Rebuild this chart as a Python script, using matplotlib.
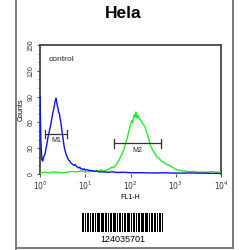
import matplotlib
matplotlib.use("Agg")
import matplotlib.pyplot as plt
import numpy as np
from matplotlib.lines import Line2D

title = "Hela"
label_control = "control"
xlabel = "FL1-H"
ylabel = "Counts"
barcode_text = "124035701"

# control (blue) histogram: log10(FL1-H) positions and counts
blue_log = [0.0, 0.01, 0.02, 0.04, 0.06, 0.08, 0.11, 0.13, 0.15, 0.17, 0.19, 0.22, 0.24, 0.26,
            0.28, 0.30, 0.32, 0.33, 0.345, 0.354, 0.365, 0.38, 0.40, 0.41, 0.43, 0.44, 0.46,
            0.48, 0.50, 0.515, 0.53, 0.55, 0.57, 0.59, 0.61, 0.62, 0.64, 0.66, 0.68, 0.70,
            0.73, 0.75, 0.78, 0.80, 0.83, 0.85, 0.88, 0.90, 0.93, 0.95, 0.98, 1.0, 1.05, 1.1,
            1.15, 1.2, 1.25, 1.3, 1.4, 1.5, 1.6, 1.7, 1.85, 2.0, 2.2, 2.5, 2.8, 3.0, 3.3, 3.5,
            3.8, 4.0]
blue_cnt = [90, 62, 38, 17, 15, 20, 23, 29, 34, 41, 46, 53, 58, 64,
            70, 75, 80, 84, 86, 88, 85, 80, 76, 72, 70, 66, 60,
            52, 45, 39, 33, 28, 24, 21, 19, 17, 16, 15, 13, 12,
            11, 10, 11, 9, 8, 7, 8, 6, 6, 5, 6, 4.5, 5, 4,
            4, 3, 3.5, 2.5, 2.5, 2, 2.5, 1.8, 2, 1.5, 1.5, 1.2, 1.4, 1, 1.2, 1,
            0.8, 0.5]

# sample (green) histogram
green_log = [0.0, 0.1, 0.2, 0.3, 0.4, 0.5, 0.6, 0.7, 0.8, 0.9, 1.0, 1.1, 1.2, 1.25, 1.3,
             1.35, 1.4, 1.45, 1.5, 1.53, 1.56, 1.6, 1.63, 1.66, 1.69, 1.72, 1.75, 1.78, 1.81,
             1.84, 1.87, 1.9, 1.93, 1.95, 1.97, 1.99, 2.01, 2.03, 2.05, 2.07, 2.09, 2.10,
             2.12, 2.13, 2.15, 2.16, 2.18, 2.2, 2.22, 2.25, 2.28, 2.32, 2.35, 2.38, 2.41,
             2.43, 2.46, 2.5, 2.54, 2.58, 2.62, 2.68, 2.73, 2.8, 2.87, 2.95, 3.02, 3.1, 3.2,
             3.3, 3.4, 3.5, 3.6, 3.7, 3.8, 3.9, 4.0]
green_cnt = [1, 2, 1.5, 2.5, 2, 1.5, 2, 3, 2.5, 3.5, 2.5, 3, 3, 4, 3.5,
             5, 3, 4, 5, 6, 7, 8, 7, 10, 11, 14, 16, 20, 23,
             27, 31, 37, 42, 47, 51, 56, 59, 62, 60, 67, 69, 66,
             72, 70, 65, 68, 66, 64, 63, 60, 58, 55, 50, 45, 40,
             35, 31, 27, 24, 20, 19, 15, 14, 11, 10, 7, 5, 4, 3.5,
             2.5, 3, 2, 2.5, 2, 3, 2, 2.5]

# gate markers (FL1-H range, count level)
gates = ["M1", "M2"]
gate_lo = [1.29, 43.0]
gate_hi = [3.9, 468.0]
gate_y = [46.5, 35.5]

yticks = [0, 30, 60, 90, 120, 150]
xticks = [1, 10, 100, 1000, 10000]
xticklabels = [r"$10^0$", r"$10^1$", r"$10^2$", r"$10^3$", r"$10^4$"]

# barcode module widths: alternating bar/space
barcode_modules = [2, 1, 1, 1, 2, 1, 1, 1, 2, 1, 1, 1, 3, 1, 1, 1, 2, 1, 2, 1, 1, 1, 2, 1,
                   3, 1, 1, 1, 2, 1, 1, 1, 2, 1, 3, 1, 1, 1, 2, 1, 1, 1, 2, 1, 2, 1, 1, 1,
                   3, 1, 1, 1, 2, 1, 2, 1, 1, 1, 2, 1, 1]

fig = plt.figure(figsize=(2.5, 2.5), dpi=100)
fig.patch.set_facecolor("white")

# outer gray frame
fig.add_artist(Line2D([15.5/250, 15.5/250], [0, 1], color="#7a7a7a", lw=1.4))
fig.add_artist(Line2D([232.7/250, 232.7/250], [1 - 248/250, 1], color="#7a7a7a", lw=1.4))
fig.add_artist(Line2D([15.5/250, 232.7/250], [1 - 248/250, 1 - 248/250], color="#7a7a7a", lw=1.4))

fig.text(123/250, 1 - 13/250, title, ha="center", va="center", fontsize=12.5,
         fontweight="bold", family="Liberation Sans")

ax = fig.add_axes([40/250, 1 - 174/250, (221 - 40)/250, (174 - 45)/250])
ax.set_xscale("log")
ax.set_xlim(1, 10000)
ax.set_ylim(0, 150)

bx = 10 ** np.array(blue_log)
gx = 10 ** np.array(green_log)
ax.plot(gx, green_cnt, color="#22ee22", lw=1.0, zorder=3)
ax.plot(bx, blue_cnt, color="#1010ee", lw=1.0, zorder=4)

for name, lo, hi, y in zip(gates, gate_lo, gate_hi, gate_y):
    ax.plot([lo, hi], [y, y], color="#333333", lw=0.9, zorder=5)
    ax.plot([lo, lo], [y - 5, y + 5], color="#333333", lw=0.9, zorder=5)
    ax.plot([hi, hi], [y - 5, y + 5], color="#333333", lw=0.9, zorder=5)
    ax.text(np.sqrt(lo * hi), y - 4, name, ha="center", va="top", fontsize=5,
            family="Liberation Sans", color="#222222", zorder=6)

ax.text(1.55, 137, label_control, ha="left", va="top", fontsize=6,
        family="Liberation Sans", color="#222222")

for s in ax.spines.values():
    s.set_color("#444444")
    s.set_linewidth(1.3)
ax.spines["bottom"].set_visible(False)

ax.set_yticks(yticks)
ax.set_yticks(np.arange(0, 151, 10), minor=True)
ax.set_yticklabels([str(v) for v in yticks], rotation=90, va="center", fontsize=5,
                   family="Liberation Sans")
ax.set_xticks(xticks)
ax.set_xticklabels(xticklabels, fontsize=5.5, family="Liberation Sans")
ax.tick_params(axis="both", which="major", length=2.5, width=0.6, pad=1.5, colors="#333333")
ax.tick_params(axis="both", which="minor", length=1.3, width=0.5, colors="#333333")
ax.set_ylabel(ylabel, fontsize=5, family="Liberation Sans", labelpad=2)
ax.set_xlabel(xlabel, fontsize=5, family="Liberation Sans", labelpad=1.5)

# barcode
bax = fig.add_axes([82/250, 1 - 232/250, (163 - 82)/250, (232 - 213)/250])
total = sum(barcode_modules)
pos = 0
for i, w in enumerate(barcode_modules):
    if i % 2 == 0:
        bax.bar(pos, 1, width=w, align="edge", color="black", linewidth=0)
    pos += w
bax.set_xlim(0, total)
bax.set_ylim(0, 1)
bax.axis("off")
fig.text(123/250, 1 - 240/250, barcode_text, ha="center", va="center", fontsize=6.5,
         family="Liberation Sans")

fig.savefig("out.png", dpi=100, facecolor="white")
